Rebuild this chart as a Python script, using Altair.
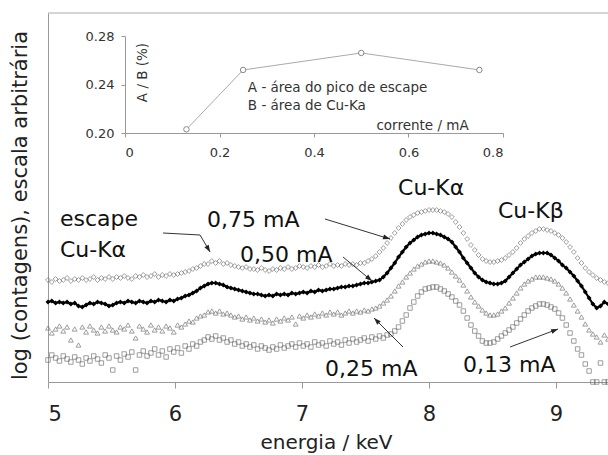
import altair as alt
import pandas as pd

FONT = "DejaVu Sans"

# ---------------- data (energy grid in keV; intensities in arbitrary log units) -------------
E_START = 5.0
E_STEP = 0.03

s075 = [102, 100, 103, 101, 102, 104, 101, 103, 102, 104,
        102, 103, 105, 102, 104, 103, 105, 103, 105, 104,
        106, 104, 103, 106, 105, 107, 105, 106, 108, 105,
        107, 106, 108, 107, 108, 109, 110, 111, 113, 114,
        116, 118, 118, 121, 119, 121, 118, 119, 117, 116,
        115, 114, 115, 113, 113, 112, 114, 112, 111, 113,
        112, 114, 113, 115, 113, 114, 116, 115, 114, 116,
        115, 117, 115, 116, 118, 116, 117, 116, 118, 117,
        118, 117, 119, 119, 121, 123, 126, 130, 134, 139,
        144, 149, 154, 158, 162, 165, 167, 169, 170, 171,
        172, 172, 172, 171, 170, 168, 165, 160, 155, 149,
        143, 137, 132, 127, 123, 121, 120, 120, 121, 122,
        124, 127, 130, 134, 139, 143, 146, 149, 151, 153,
        153, 152, 151, 149, 147, 144, 140, 135, 130, 124,
        119, 114, 110, 107, 104, 102, 100, 99]

s050 = [80, 81, 79, 80, 79, 80, 78, 79, 76, 75,
        77, 79, 78, 80, 79, 78, 76, 77, 79, 80,
        79, 81, 80, 79, 81, 80, 79, 81, 80, 82,
        81, 80, 82, 81, 83, 84, 86, 87, 89, 91,
        94, 96, 98, 99, 99, 98, 97, 95, 94, 93,
        92, 91, 90, 89, 88, 88, 87, 86, 87, 86,
        88, 87, 88, 87, 89, 88, 89, 90, 89, 91,
        90, 92, 91, 92, 93, 93, 94, 95, 95, 96,
        96, 97, 98, 99, 99, 100, 101, 102, 105, 109,
        114, 119, 125, 130, 135, 139, 142, 145, 147, 148,
        149, 149, 148, 147, 145, 143, 140, 135, 130, 124,
        119, 114, 109, 105, 102, 100, 99, 98, 98, 99,
        101, 105, 109, 113, 117, 120, 123, 126, 128, 129,
        129, 129, 127, 124, 121, 117, 114, 110, 106, 101,
        96, 90, 84, 78, 74, 76, 80, 78]

s025 = [54, 49, 53, 56, 51, 55, 42, 53, 37, 55,
        50, 56, 52, 49, 55, 51, 56, 52, 50, 55,
        53, 57, 51, 44, 56, 53, 50, 57, 52, 55,
        51, 56, 54, 50, 57, 55, 58, 61, 60, 64,
        66, 67, 70, 71, 69, 71, 68, 69, 67, 65,
        66, 63, 65, 62, 64, 61, 63, 60, 62, 59,
        63, 61, 64, 62, 65, 58, 66, 64, 67, 65,
        68, 66, 69, 67, 70, 68, 70, 67, 69, 71,
        69, 71, 70, 72, 71, 73, 74, 76, 79, 82,
        86, 91, 96, 100, 105, 109, 113, 116, 118, 120,
        121, 121, 120, 119, 117, 114, 110, 106, 102, 97,
        91, 85, 80, 76, 72, 69, 67, 67, 68, 71,
        74, 79, 84, 89, 94, 98, 101, 103, 105, 105,
        105, 104, 103, 101, 98, 94, 89, 83, 77, 71,
        65, 58, 52, 48, 45, 40, 47, 43]

s013 = [22, 27, 24, 21, 26, 23, 20, 25, 22, 18,
        24, 21, 26, 23, 19, 27, 24, 12, 26, 22,
        28, 25, 30, 12, 27, 31, 26, 29, 33, 27,
        31, 25, 33, 30, 34, 29, 36, 33, 38, 36,
        40, 42, 45, 43, 46, 42, 44, 40, 42, 38,
        40, 36, 38, 35, 37, 33, 36, 34, 32, 35,
        33, 37, 34, 36, 38, 35, 39, 36, 38, 35,
        40, 37, 39, 36, 41, 38, 40, 37, 42, 39,
        43, 40, 42, 44, 41, 45, 43, 46, 44, 47,
        48, 51, 55, 61, 67, 74, 80, 86, 90, 93,
        94, 95, 95, 93, 91, 88, 85, 81, 77, 71,
        64, 57, 51, 46, 41, 39, 39, 40, 43, 46,
        49, 52, 55, 59, 63, 67, 71, 74, 76, 78,
        78, 77, 75, 73, 69, 64, 57, 49, 41, 33,
        27, 18, 11, 0, 0, 19, 0, 0]

# inset: ratio A/B versus current
corrente = [0.13, 0.25, 0.50, 0.75]
razao = [0.203, 0.252, 0.266, 0.252]

# annotations
ann_text = ["escape", "Cu-Kα", "0,75 mA", "0,50 mA", "Cu-Kα", "Cu-Kβ", "0,25 mA", "0,13 mA"]
ann_E = [5.094, 5.094, 6.252, 6.512, 7.756, 8.543, 7.181, 8.268]
ann_y = [156, 125, 155, 120, 187, 164, 6, 10]

arrow_id = [1, 1, 1, 2, 2, 3, 3, 4, 4, 5, 5]
arrow_E = [5.906, 6.197, 6.276, 7.181, 7.693, 7.323, 7.551, 7.795, 7.567, 8.638, 9.016]
arrow_y = [149, 147, 130, 163, 143, 125, 101, 35, 64, 35, 53]
head_E = [6.276, 7.693, 7.551, 7.567, 9.016]
head_y = [130, 143, 101, 64, 53]
head_angle = [150, 107, 130, 315, 69]

inset_legend = ["A - área do pico de escape", "B - área de Cu-Ka"]
inset_leg_x = [0.260, 0.260]
inset_leg_y = [0.2338, 0.2190]

# ---------------- build ----------------
n = len(s075)
energia = [round(E_START + E_STEP * i, 2) for i in range(n)]


def sdf(vals):
    return pd.DataFrame({"E": energia[:len(vals)], "y": vals})


xs = alt.Scale(domain=[5, 9.409], nice=False, zero=False)
ys = alt.Scale(domain=[0, 369], nice=False, zero=False)

X = alt.X("E:Q", scale=xs, title="energia / keV",
          axis=alt.Axis(values=[5, 6, 7, 8, 9], format="d", domainColor="#999999",
                        tickColor="#999999", tickSize=6, labelFont=FONT, labelFontSize=21,
                        labelColor="#222222", labelPadding=15, titleFont=FONT,
                        titleFontSize=20, titleFontWeight="normal", titleColor="#222222",
                        titleX=278, titleY=66, titleBaseline="alphabetic", titleAlign="center",
                        grid=False))
Y = alt.Y("y:Q", scale=ys, title="log (contagens), escala arbitrária",
          axis=alt.Axis(domainColor="#999999", ticks=False, labels=False, grid=False,
                        titleFont=FONT, titleFontSize=21, titleFontWeight="normal",
                        titleColor="#222222", titleX=-28, titleY=192, titleAngle=270,
                        titleBaseline="middle", titleAlign="center"))

frame = alt.Chart(pd.DataFrame({"a": [0]})).mark_rule(color="#aaaaaa", strokeWidth=1).encode(
    x=alt.value(0), x2=alt.value(560), y=alt.value(0))

p075 = alt.Chart(sdf(s075)).mark_point(shape="diamond", filled=False, size=24,
                                       color="#666666", strokeWidth=0.9).encode(x=X, y=Y)
l050 = alt.Chart(sdf(s050)).mark_line(color="black", strokeWidth=2.2).encode(x=X, y=Y)
p050 = alt.Chart(sdf(s050)).mark_point(shape="diamond", filled=True, size=24,
                                       color="black", opacity=1).encode(x=X, y=Y)
p025 = alt.Chart(sdf(s025)).mark_point(shape="triangle-up", filled=False, size=24,
                                       color="#666666", strokeWidth=0.9).encode(x=X, y=Y)
p013 = alt.Chart(sdf(s013)).mark_point(shape="square", filled=False, size=20,
                                       color="#666666", strokeWidth=0.9).encode(x=X, y=Y)

texts = alt.Chart(pd.DataFrame({"E": ann_E, "y": ann_y, "t": ann_text})).mark_text(
    align="left", baseline="alphabetic", font=FONT, fontSize=22, color="#111111").encode(
    x=X, y=Y, text="t:N")

arrows = alt.Chart(pd.DataFrame({"E": arrow_E, "y": arrow_y, "id": arrow_id,
                                 "o": list(range(len(arrow_id)))})).mark_line(
    color="#333333", strokeWidth=1).encode(x=X, y=Y, detail="id:N", order="o:Q")
heads = alt.Chart(pd.DataFrame({"E": head_E, "y": head_y, "a": head_angle})).mark_point(
    shape="M0,0L0.7,2L-0.7,2Z", filled=True, size=49, color="#222222", opacity=1).encode(
    x=X, y=Y, angle=alt.Angle("a:Q", scale=None))

main = alt.layer(frame, p075, p025, p013, l050, p050, arrows, heads, texts)

IX = alt.X("corrente:Q", scale=alt.Scale(domain=[0, 0.8], range=[77, 455], nice=False, zero=False),
           title="corrente / mA",
           axis=alt.Axis(orient="bottom", offset=-249, values=[0, 0.2, 0.4, 0.6, 0.8],
                         labelExpr="datum.value == 0 ? '0' : format(datum.value, '.1f')",
                         domainColor="#999999", tickColor="#999999", tickSize=4,
                         labelFont=FONT, labelFontSize=13, labelColor="#333333", labelPadding=9,
                         titleFont=FONT, titleFontSize=13.5, titleFontWeight="normal",
                         titleColor="#333333", titleX=374, titleY=-4,
                         titleBaseline="alphabetic", titleAlign="center", grid=False))
IY = alt.Y("razao:Q", scale=alt.Scale(domain=[0.2, 0.28], range=[120, 23], nice=False, zero=False),
           title="A / B (%)",
           axis=alt.Axis(orient="left", offset=-77, values=[0.20, 0.24, 0.28], format=".2f",
                         domainColor="#999999", tickColor="#999999", tickSize=4,
                         labelFont=FONT, labelFontSize=13, labelColor="#333333", labelPadding=7,
                         titleFont=FONT, titleFontSize=13.5, titleFontWeight="normal",
                         titleColor="#333333", titleX=17, titleY=59, titleAngle=270,
                         titleBaseline="middle", titleAlign="center", grid=False))

idf = pd.DataFrame({"corrente": corrente, "razao": razao})
iline = alt.Chart(idf).mark_line(color="#aaaaaa", strokeWidth=1).encode(x=IX, y=IY)
ipts = alt.Chart(idf).mark_point(shape="circle", filled=True, fill="white", stroke="#888888",
                                 strokeWidth=1, size=30, opacity=1).encode(x=IX, y=IY)
ileg = alt.Chart(pd.DataFrame({"corrente": inset_leg_x, "razao": inset_leg_y,
                               "t": inset_legend})).mark_text(
    align="left", baseline="alphabetic", font=FONT, fontSize=13.5, color="#333333").encode(
    x=IX, y=IY, text="t:N")

inset = alt.layer(iline, ipts, ileg)

chart = alt.layer(main, inset).resolve_scale(x="independent", y="independent").properties(
    width=560, height=369,
    autosize=alt.AutoSizeParams(type="none"),
    padding={"left": 48, "top": 13, "right": 0, "bottom": 73},
    background="white",
).configure_view(strokeWidth=0)

chart.save("out.html", embed_options={"renderer": "svg", "actions": False})
